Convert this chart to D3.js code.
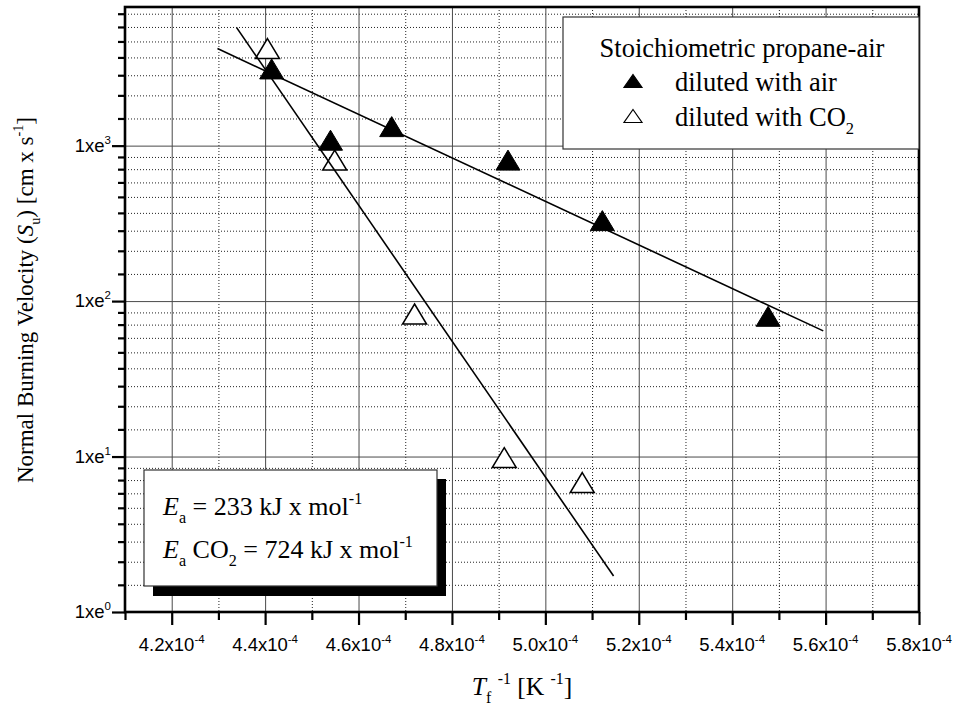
<!DOCTYPE html>
<html>
<head>
<meta charset="utf-8">
<script src="https://cdn.jsdelivr.net/npm/d3@7"></script>
<style>
    body { margin: 0; background: #fff; }
    svg { display: block; }
    .serif { font-family: "Liberation Serif", "Times New Roman", serif; }
    .sans  { font-family: "Liberation Sans", Arial, sans-serif; }
</style>
</head>
<body>
<svg id="chart"></svg>
<script>
// ---- data ----
const airX = [4.414e-4, 4.540e-4, 4.671e-4, 4.920e-4, 5.122e-4, 5.477e-4];
const airY = [32.9, 20.8, 22.7, 18.3, 12.4, 6.7];
const co2X = [4.405e-4, 4.549e-4, 4.720e-4, 4.912e-4, 5.079e-4];
const co2Y = [37.5, 18.3, 6.8, 2.7, 2.3];

// fitted Arrhenius lines (end points)
const airFitX = [4.298e-4, 5.595e-4];
const airFitY = [37.5, 6.1];
const co2FitX = [4.339e-4, 5.146e-4];
const co2FitY = [42.9, 1.26];

// axes
const xMajor = [4.2e-4, 4.4e-4, 4.6e-4, 4.8e-4, 5.0e-4, 5.2e-4, 5.4e-4, 5.6e-4, 5.8e-4];
const xMajorLabels = ['4.2', '4.4', '4.6', '4.8', '5.0', '5.2', '5.4', '5.6', '5.8'];
const xMinor = [4.1e-4, 4.3e-4, 4.5e-4, 4.7e-4, 4.9e-4, 5.1e-4, 5.3e-4, 5.5e-4, 5.7e-4];
const yMajorExp = [0, 1, 2, 3];   // ln scale, labels 1xe^n
const yDomain = [1, 49];
const legendLabels = ['diluted with air', 'diluted with CO'];

const W = 956, H = 707;
const MARGIN = { top: 7, right: 37, bottom: 95, left: 125 };
const iw = W - MARGIN.left - MARGIN.right;
const ih = H - MARGIN.top - MARGIN.bottom;

const svg = d3.select('#chart').attr('width', W).attr('height', H);
const g = svg.append('g').attr('transform', `translate(${MARGIN.left},${MARGIN.top})`);

const x = d3.scaleLinear().domain([4.1e-4, 5.8e-4]).range([0, iw]);
const y = d3.scaleLog().base(Math.E).domain(yDomain).range([ih, 0]);

// minor ticks of an Origin "ln" axis: 9 linear steps between e^n and e^(n+1)
const yMinor = [];
yMajorExp.forEach(n => {
    const a = Math.exp(n), b = Math.exp(n + 1);
    for (let k = 1; k < 9; k++) {
        const v = a + (b - a) * k / 9;
        if (v <= yDomain[1]) yMinor.push(v);
    }
});
const yMajor = yMajorExp.map(n => Math.exp(n));

/**
 * Append text made of parts: [string, kind] with kind in '', 'i', 'sub', 'sup'.
 */
function rich(textSel, parts, size) {
    let shift = 0;
    parts.forEach(([str, kind]) => {
        const t = textSel.append('tspan').text(str);
        let target = 0;
        if (kind === 'sub') target = size * 0.32;
        if (kind === 'sup') target = -size * 0.42;
        t.attr('dy', target - shift);
        shift = target;
        if (kind === 'sub' || kind === 'sup') t.attr('font-size', size * 0.62);
        if (kind === 'i') t.attr('font-style', 'italic');
    });
}

// ---- grid ----
function grid(axis, color, dash) {
    const gg = g.append('g').call(axis).call(a => a.select('.domain').remove());
    gg.selectAll('.tick line').attr('stroke', color).attr('stroke-width', 1)
        .attr('stroke-dasharray', dash);
    gg.selectAll('text').remove();
    return gg;
}
grid(d3.axisLeft(y).tickValues(yMinor).tickSize(-iw).tickFormat(''), '#222', '1,2');
grid(d3.axisBottom(x).tickValues(xMinor.slice(1)).tickSize(ih).tickFormat(''), '#222', '1,2');
grid(d3.axisLeft(y).tickValues(yMajor.slice(1)).tickSize(-iw).tickFormat(''), '#4a4a4a', null);
grid(d3.axisBottom(x).tickValues(xMajor.slice(0, -1)).tickSize(ih).tickFormat(''), '#4a4a4a', null);

// ---- markers ----
function triPath(cx, cy, w, h) {
    return `M${cx},${cy - h / 2}L${cx + w / 2},${cy + h / 2}L${cx - w / 2},${cy + h / 2}Z`;
}
g.append('g').selectAll('path').data(d3.zip(airX, airY)).join('path')
    .attr('d', d => triPath(x(d[0]), y(d[1]), 24, 20))
    .attr('fill', '#000').attr('stroke', '#000').attr('stroke-width', 1);
g.append('g').selectAll('path').data(d3.zip(co2X, co2Y)).join('path')
    .attr('d', d => triPath(x(d[0]), y(d[1]), 24, 20))
    .attr('fill', '#fff').attr('stroke', '#000').attr('stroke-width', 1.5);

// ---- fit lines ----
const line = d3.line().x(d => x(d[0])).y(d => y(d[1]));
[[airFitX, airFitY], [co2FitX, co2FitY]].forEach(([fx, fy]) => {
    g.append('path').datum(d3.zip(fx, fy)).attr('d', line)
        .attr('fill', 'none').attr('stroke', '#000').attr('stroke-width', 1.6);
});

// ---- axes ----
function ticks(axis) {
    const a = g.append('g').call(axis);
    a.select('.domain').remove();
    a.selectAll('.tick line').attr('stroke', '#000').attr('stroke-width', 2.2);
    return a;
}
ticks(d3.axisLeft(y).tickValues(yMajor).tickSize(13).tickFormat(''));
ticks(d3.axisLeft(y).tickValues(yMinor).tickSize(7).tickFormat(''));
ticks(d3.axisBottom(x).tickValues(xMajor).tickSize(13).tickFormat('')).attr('transform', `translate(0,${ih})`);
ticks(d3.axisBottom(x).tickValues(xMinor).tickSize(8).tickFormat('')).attr('transform', `translate(0,${ih})`);

// frame
g.append('rect').attr('width', iw).attr('height', ih)
    .attr('fill', 'none').attr('stroke', '#000').attr('stroke-width', 2.6);

// tick labels
const TICK_FS = 18.5;
yMajorExp.forEach(n => {
    const t = g.append('text').attr('class', 'sans').attr('font-size', TICK_FS)
        .attr('x', -14).attr('y', y(Math.exp(n)) + 6).attr('text-anchor', 'end');
    rich(t, [['1xe', ''], [String(n), 'sup']], TICK_FS);
});
xMajor.forEach((v, i) => {
    const t = g.append('text').attr('class', 'sans').attr('font-size', TICK_FS)
        .attr('x', x(v)).attr('y', ih + 39).attr('text-anchor', 'middle');
    rich(t, [[xMajorLabels[i] + 'x10', ''], ['-4', 'sup']], TICK_FS);
});

// axis titles
const xt = svg.append('text').attr('class', 'serif').attr('font-size', 25.5)
    .attr('x', 522).attr('y', 695).attr('text-anchor', 'middle');
rich(xt, [['T', 'i'], ['f', 'sub'], [' ', ''], ['-1', 'sup'], [' [K ', ''], ['-1', 'sup'], [']', '']], 25.5);

const yt = svg.append('text').attr('class', 'serif').attr('font-size', 23)
    .attr('transform', 'translate(33,300) rotate(-90)').attr('text-anchor', 'middle');
rich(yt, [['Normal Burning Velocity (', ''], ['S', 'i'], ['u', 'sub'], [') [cm x s', ''], ['-1', 'sup'], [']', '']], 23);

// ---- legend ----
const LEG_FS = 26.5;
const lg = svg.append('g');
lg.append('rect').attr('x', 563).attr('y', 17).attr('width', 356).attr('height', 132)
    .attr('fill', '#fff').attr('stroke', '#333').attr('stroke-width', 1.2);
lg.append('text').attr('class', 'serif').attr('font-size', LEG_FS)
    .attr('x', 742).attr('y', 57).attr('text-anchor', 'middle').text('Stoichiometric propane-air');
[[81, '#000'], [116, '#fff']].forEach(([cy, fill], i) => {
    lg.append('path').attr('d', triPath(633, cy, 18, 13))
        .attr('fill', fill).attr('stroke', '#000').attr('stroke-width', 1.2);
    const t = lg.append('text').attr('class', 'serif').attr('font-size', LEG_FS)
        .attr('x', 675).attr('y', cy + 10);
    rich(t, i === 0 ? [[legendLabels[0], '']] : [[legendLabels[1], ''], ['2', 'sub']], LEG_FS);
});

// ---- activation energy box ----
const EB_FS = 26;
const eb = svg.append('g');
eb.append('rect').attr('x', 153).attr('y', 479).attr('width', 293).attr('height', 117).attr('fill', '#000');
eb.append('rect').attr('x', 144).attr('y', 470).attr('width', 293).attr('height', 116)
    .attr('fill', '#fff').attr('stroke', '#333').attr('stroke-width', 1.2);
const e1 = eb.append('text').attr('class', 'serif').attr('font-size', EB_FS).attr('x', 163).attr('y', 515);
rich(e1, [['E', 'i'], ['a', 'sub'], [' = 233 kJ x mol', ''], ['-1', 'sup']], EB_FS);
const e2 = eb.append('text').attr('class', 'serif').attr('font-size', EB_FS).attr('x', 163).attr('y', 558);
rich(e2, [['E', 'i'], ['a', 'sub'], [' CO', ''], ['2', 'sub'], [' = 724 kJ x mol', ''], ['-1', 'sup']], EB_FS);
</script>
</body>
</html>
